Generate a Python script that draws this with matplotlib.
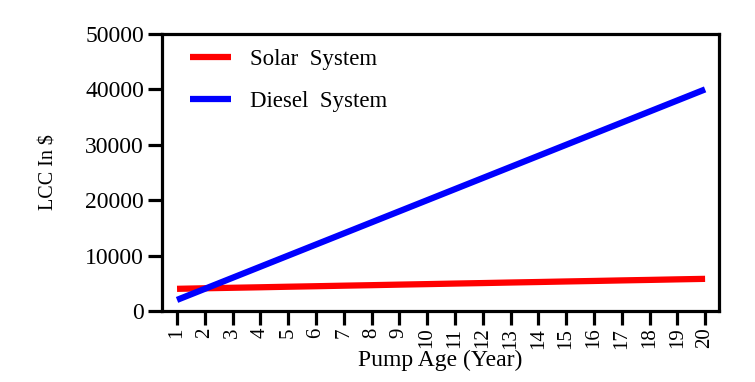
import matplotlib
matplotlib.use("Agg")
import matplotlib.pyplot as plt

# data
years = list(range(1, 21))
solar = [4000, 4100, 4190, 4280, 4380, 4470, 4570, 4660, 4760, 4850,
         4950, 5040, 5140, 5230, 5330, 5420, 5520, 5610, 5710, 5800]
diesel = [2000, 4000, 6000, 8000, 10000, 12000, 14000, 16000, 18000, 20000,
          22000, 24000, 26000, 28000, 30000, 32000, 34000, 36000, 38000, 40000]
yticks = [0, 10000, 20000, 30000, 40000, 50000]

plt.rcParams['font.family'] = ['Liberation Serif', 'DejaVu Serif']

fig = plt.figure(figsize=(7.55, 3.82), dpi=100)
ax = fig.add_axes([0.2146, 0.1859, 0.7377, 0.7251])

ax.plot(years, solar, color='#ff0000', linewidth=4.5, solid_capstyle='butt', label='Solar  System')
ax.plot(years, diesel, color='#0000ff', linewidth=4.5, solid_capstyle='butt', label='Diesel  System')

ax.set_xlim(0.46, 20.5)
ax.set_ylim(0, 50000)
ax.set_xticks(years)
ax.set_xticklabels([str(y) for y in years], rotation=90)
ax.set_yticks(yticks)

for s in ax.spines.values():
    s.set_linewidth(2.3)
ax.tick_params(axis='both', which='major', direction='out', length=10, width=2.3,
               color='black')
ax.tick_params(axis='x', pad=2, labelsize=15)
ax.tick_params(axis='y', pad=3, labelsize=17)

ax.set_ylabel('LCC In $', fontsize=14.5, labelpad=19)
ax.set_xlabel('Pump Age (Year)', fontsize=17, labelpad=1)

leg = ax.legend(loc='upper left', frameon=False, fontsize=16.5, handlelength=1.8,
                handletextpad=0.85, labelspacing=0.92, borderaxespad=0.8,
                bbox_to_anchor=(0.0, 1.045))

fig.savefig('out.png', dpi=100)
